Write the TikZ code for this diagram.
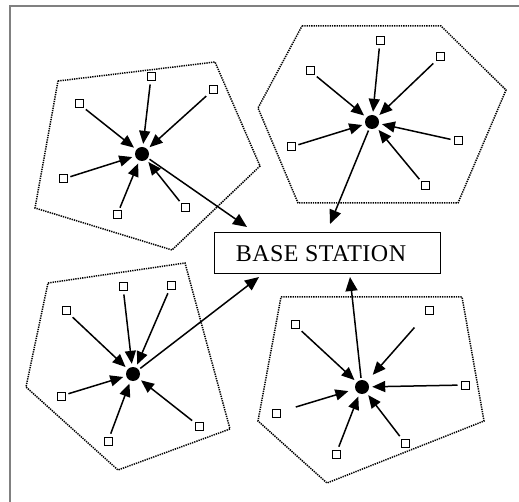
\documentclass[tikz,border=0pt]{standalone}
\usepackage{fontspec}
\setmainfont{Liberation Serif}
\usetikzlibrary{arrows.meta}
\begin{document}
\begin{tikzpicture}[x=1pt,y=-1pt,
  sensor/.style={draw, line width=1pt, minimum size=8pt, inner sep=0pt, fill=white},
  head/.style={circle, fill=black, minimum size=14pt, inner sep=0pt},
  link/.style={-{Triangle[length=13pt,width=11pt]}, line width=1.5pt, shorten >=3pt, shorten <=3pt},
  uplink/.style={-{Triangle[length=14pt,width=12pt]}, line width=1.5pt, shorten <=2pt},
  cluster/.style={dash pattern=on 1.3pt off 1pt, line width=1.5pt, draw=black},
  frame/.style={draw=gray, line width=2pt},
  basebox/.style={draw, line width=1pt, minimum width=226pt, minimum height=41pt, inner sep=0pt,
    font=\fontsize{24}{28}\selectfont\addfontfeature{LetterSpace=2}}]
\useasboundingbox (0,0) rectangle (519,502);
% frame
\coordinate (fa) at (10,502);
\coordinate (fb) at (10,6);
\coordinate (fc) at (519,6);
\draw[frame] (fa) -- (fb) -- (fc);

% base station
\node[basebox] (base) at (327,253.5) {BASE STATION\hspace*{12pt}};

% ---------- cluster 1 (top-left) ----------
\draw[cluster] (58,81) -- (215,62) -- (260,166) -- (172,250) -- (35,208) -- cycle;
\node[head] (h1) at (142,154) {};
\node[sensor] (a1) at (151,77) {};
\node[sensor] (a2) at (213,90) {};
\node[sensor] (a3) at (79,104) {};
\node[sensor] (a4) at (63,179) {};
\node[sensor] (a5) at (117,215) {};
\node[sensor] (a6) at (185,208) {};
\foreach \s in {a1,a2,a3,a4,a5,a6} \draw[link] (\s) -- (h1);
\coordinate (t1) at (247,227);
\draw[uplink] (h1) -- (t1);

% ---------- cluster 2 (top-right) ----------
\draw[cluster] (302,26) -- (441,26) -- (506,90) -- (458,203) -- (298,203) -- (258,108) -- cycle;
\node[head] (h2) at (372,122) {};
\node[sensor] (b1) at (380,41) {};
\node[sensor] (b2) at (440,57) {};
\node[sensor] (b3) at (310,71) {};
\node[sensor] (b4) at (291,147) {};
\node[sensor] (b5) at (458,141) {};
\node[sensor] (b6) at (425,186) {};
\foreach \s in {b1,b2,b3,b4,b5,b6} \draw[link] (\s) -- (h2);
\coordinate (t2) at (330,224);
\draw[uplink] (h2) -- (t2);

% ---------- cluster 3 (bottom-left) ----------
\draw[cluster] (48,283) -- (185,263) -- (230,429) -- (118,470) -- (26,387) -- cycle;
\node[head] (h3) at (133,374) {};
\node[sensor] (c1) at (123,287) {};
\node[sensor] (c2) at (171,286) {};
\node[sensor] (c3) at (66,311) {};
\node[sensor] (c4) at (61,396) {};
\node[sensor] (c5) at (108,441) {};
\node[sensor] (c6) at (199,426) {};
\foreach \s in {c1,c2,c3,c4,c5,c6} \draw[link] (\s) -- (h3);
\coordinate (t3) at (259,277);
\draw[uplink] (h3) -- (t3);

% ---------- cluster 4 (bottom-right) ----------
\draw[cluster] (281,297) -- (462,297) -- (484,421) -- (327,483) -- (258,421) -- cycle;
\node[head] (h4) at (362,387) {};
\node[sensor] (d1) at (429,311) {};
\node[sensor] (d2) at (295,325) {};
\node[sensor] (d3) at (465,385) {};
\node[sensor] (d4) at (276,413) {};
\node[sensor] (d5) at (336,454) {};
\node[sensor] (d6) at (405,443) {};
\foreach \s in {d2,d3,d5,d6} \draw[link] (\s) -- (h4);
\draw[link, shorten <=16pt, shorten >=9pt] (d1) -- (h4);
\draw[link, shorten <=16pt, shorten >=7pt] (d4) -- (h4);
\coordinate (t4) at (350,277);
\draw[uplink] (h4) -- (t4);
\end{tikzpicture}
\end{document}
